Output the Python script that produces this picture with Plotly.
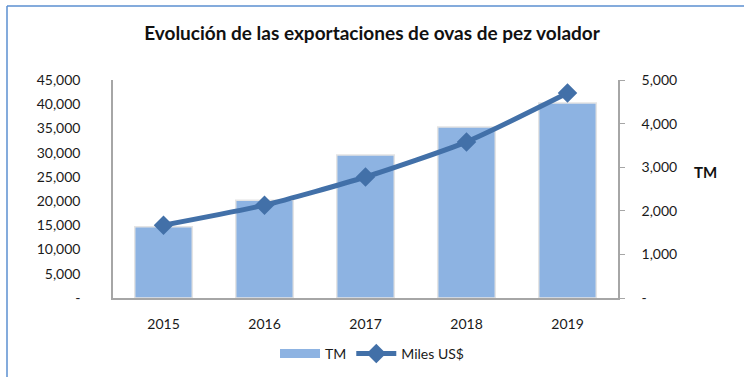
import plotly.graph_objects as go

# Data
years = ["2015", "2016", "2017", "2018", "2019"]
tm = [14700, 20200, 29500, 35300, 40250]          # toneladas métricas (left axis)
miles_usd = [1670, 2130, 2775, 3580, 4700]        # miles de US$ (right axis)
left_ticks = [0, 5000, 10000, 15000, 20000, 25000, 30000, 35000, 40000, 45000]
right_ticks = [0, 1000, 2000, 3000, 4000, 5000]

def fmt(v):
    return "-" if v == 0 else f"{v:,}"

W, H = 744, 377
L, R, T, B = 113, 618, 80, 298   # plot area in pixels

FONT = "Lato"
BAR_COLOR = "#8DB3E2"
LINE_COLOR = "#4270A8"
AXIS_COLOR = "#A6A6A6"

fig = go.Figure()
fig.add_trace(go.Bar(
    x=years, y=tm, name="TM", showlegend=False, legendgroup="tm",
    marker=dict(color=BAR_COLOR, line=dict(color="#E4E4E4", width=1.5)),
    width=0.57,
))
# wide swatch for the bar series in the legend
fig.add_trace(go.Scatter(
    x=[None], y=[None], name="TM", legendgroup="tm", mode="lines",
    line=dict(color=BAR_COLOR, width=9),
))
fig.add_trace(go.Scatter(
    x=years, y=miles_usd, name="Miles US$", yaxis="y2",
    mode="lines+markers",
    line=dict(color=LINE_COLOR, width=5, shape="spline", smoothing=0.6),
    marker=dict(symbol="diamond", size=15, color=LINE_COLOR),
))

# px -> paper coordinates for the outer frame
def px_x(x):
    return (x - L) / (R - L)

def px_y(y):
    return (B - y) / (B - T)

shapes = [
    dict(type="line", xref="paper", yref="paper",
         x0=px_x(7), x1=px_x(7), y0=px_y(6), y1=px_y(380),
         line=dict(color="#5B8FD0", width=1.5)),
    dict(type="line", xref="paper", yref="paper",
         x0=px_x(7), x1=px_x(746), y0=px_y(6), y1=px_y(6),
         line=dict(color="#5B8FD0", width=1.5)),
]

fig.update_layout(
    width=W, height=H,
    margin=dict(l=L, r=W - R, t=T, b=H - B, autoexpand=False),
    paper_bgcolor="white", plot_bgcolor="white",
    font=dict(family=FONT, size=14, color="#1a1a1a"),
    title=dict(text="<b>Evolución de las exportaciones de ovas de pez volador</b>",
               x=0.5, xref="container", xanchor="center",
               y=1 - 33 / H, yref="container", yanchor="middle",
               font=dict(size=19, family=FONT, color="#111111")),
    xaxis=dict(showline=True, linecolor=AXIS_COLOR, linewidth=1.5,
               ticks="", showgrid=False, ticklabelstandoff=12,
               tickfont=dict(size=14)),
    yaxis=dict(range=[0, 45000], tickvals=left_ticks,
               ticktext=[fmt(v) for v in left_ticks],
               showline=True, linecolor=AXIS_COLOR, linewidth=1.5,
               showgrid=False, zeroline=False, ticks="",
               ticklabelstandoff=28, tickfont=dict(size=14)),
    yaxis2=dict(range=[0, 5000], tickvals=right_ticks,
                ticktext=[fmt(v) for v in right_ticks],
                overlaying="y", side="right",
                showline=True, linecolor=AXIS_COLOR, linewidth=1.5,
                showgrid=False, zeroline=False,
                ticks="outside", ticklen=5, tickcolor=AXIS_COLOR,
                ticklabelstandoff=14, tickfont=dict(size=14)),
    legend=dict(orientation="h", x=0.5, xref="container", xanchor="center",
                y=1 - 354 / H, yref="container", yanchor="middle",
                font=dict(size=14), itemwidth=40, traceorder="normal"),
    showlegend=True,
    shapes=shapes,
    annotations=[dict(text="<b>TM</b>", xref="paper", yref="paper",
                      x=px_x(705), y=px_y(172), showarrow=False,
                      xanchor="center", yanchor="middle",
                      font=dict(size=15, family=FONT, color="#111111"))],
)

fig.write_html("out.html")
